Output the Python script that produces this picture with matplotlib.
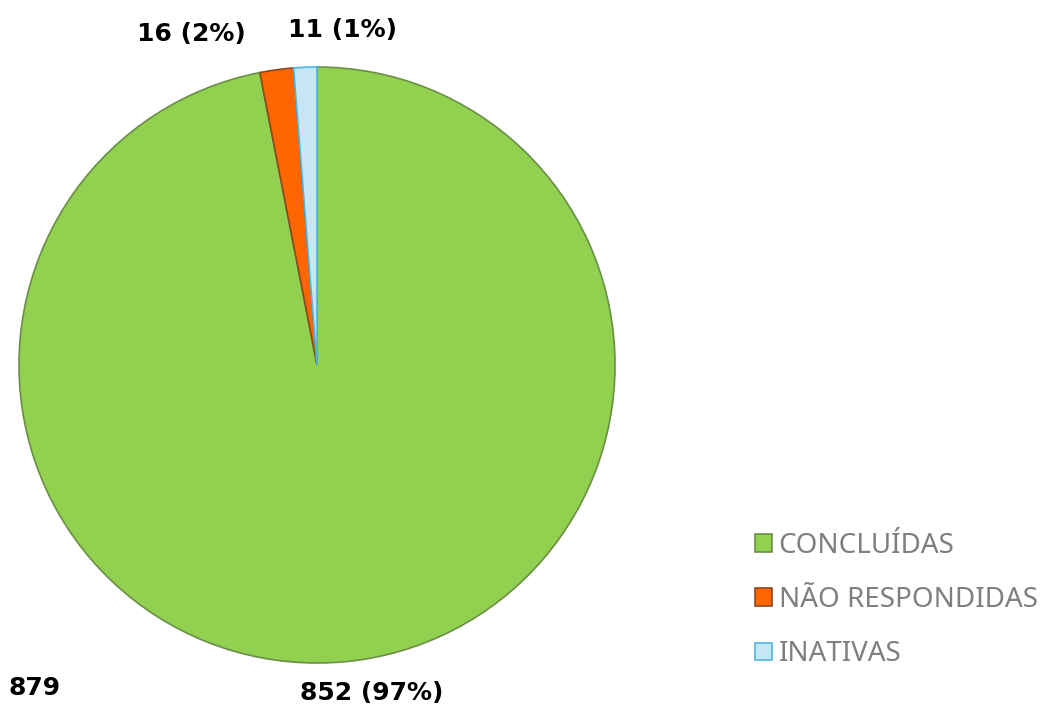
import matplotlib.pyplot as plt
from matplotlib.patches import Patch

# dados
categorias = ['CONCLUÍDAS', 'NÃO RESPONDIDAS', 'INATIVAS']
valores = [852, 16, 11]
cores = ['#92D050', '#FF6600', '#C6E6F5']
bordas = ['#6A8F45', '#8A4A20', '#4FB6E0']
total = sum(valores)

plt.rcParams['font.family'] = ['DejaVu Sans']

fig = plt.figure(figsize=(10.49, 7.13), dpi=100)
ax = fig.add_axes([0.0181, 0.0701, 0.5682, 0.8359])

wedges, _ = ax.pie(valores, colors=cores, startangle=90, counterclock=False,
                   radius=1.0, wedgeprops=dict(linewidth=1.2))
for w, b in zip(wedges, bordas):
    w.set_edgecolor(b)
ax.set_xlim(-1, 1)
ax.set_ylim(-1, 1)
ax.set_aspect('auto')
ax.axis('off')

# rótulos
pos_rotulos = [(0.185, -1.10), (-0.42, 1.11), (0.085, 1.125)]
for v, (x, y) in zip(valores, pos_rotulos):
    pct = round(v / total * 100)
    ax.text(x, y, f'{v} ({pct}%)', ha='center', va='center', fontsize=18,
            fontweight='bold', color='black', clip_on=False)

fig.text(35 / 1049, 1 - 688 / 713, str(total), ha='center', va='center',
         fontsize=18, fontweight='bold')

# legenda
handles = [Patch(facecolor=c, edgecolor=b, linewidth=1.2) for c, b in zip(cores, bordas)]
leg = fig.legend(handles, categorias, loc='center left',
                 bbox_to_anchor=(730 / 1049, 1 - 600 / 713), frameon=False,
                 prop={'family': ['Noto Sans', 'DejaVu Sans'], 'size': 20},
                 labelcolor='#7F7F7F', handlelength=0.6,
                 handleheight=0.6, handletextpad=0.25, labelspacing=0.95)

fig.savefig('out.png', dpi=100)
